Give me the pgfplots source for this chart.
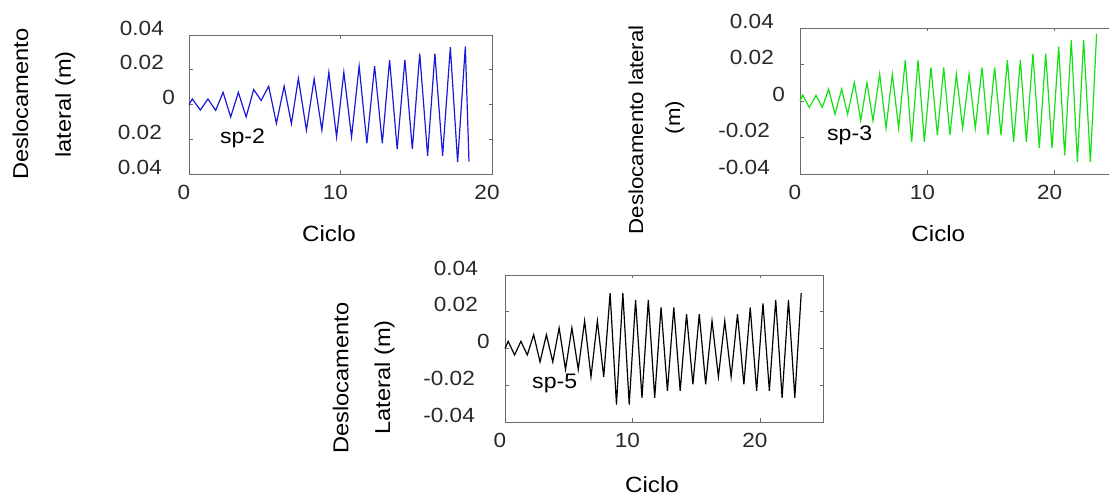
\documentclass[border=0pt]{standalone}
\usepackage{fontspec}
\setmainfont{Liberation Sans}[FakeStretch=1.1]
\usepackage{pgfplots}
\pgfplotsset{compat=1.18}
\definecolor{framec}{RGB}{105,105,105}
\definecolor{tlc}{RGB}{40,40,40}
\definecolor{sblue}{RGB}{25,25,215}
\definecolor{sgreen}{RGB}{20,225,20}
\tikzset{yl/.style={rotate=90, anchor=base, inner sep=0pt, font=\fontsize{21.5}{26}\selectfont}}
\pgfplotsset{
  base/.style={
    scale only axis,
    clip=false,
    anchor=south west,
    ymin=-0.04, ymax=0.04,
    scaled y ticks=false, scaled x ticks=false,
    ytick={-0.04,-0.02,0,0.02,0.04},
    xtick={0,10,20}, xticklabels={0,10,20},
    axis line style={framec, line width=0.9pt},
    tick style={framec, line width=0.6pt},
    major tick length=3.5pt,
    tick align=inside,
    /pgf/number format/assume math mode=true,
    ticklabel style={font=\fontsize{20.5}{24}\selectfont, text=tlc, inner sep=0pt},
    xticklabel style={anchor=north, yshift=-11pt, xshift=-5pt},
    label style={font=\fontsize{22}{26}\selectfont, text=black},
    xlabel={Ciclo},
  },
}
\begin{document}
\begin{tikzpicture}
% sp-2
\begin{axis}[base,
  at={(189pt,321pt)}, width=303pt, height=139pt,
  xmin=0, xmax=20,
  yticklabels={0.04\hspace*{2pt},0.02\hspace*{2pt},0\hspace*{-11pt},0.02,0.04},
  yticklabel style={anchor=east, xshift=-25pt, yshift=7pt},
  xlabel style={at={(axis description cs:0.462,-0.432)}, anchor=center},
]
\addplot[sblue, line width=1.2pt, line join=miter] coordinates {
(0,0) (0.22,0.0032) (0.75,-0.0032) (1.25,0.0032) (1.76,-0.0034) (2.25,0.0070) (2.75,-0.0072) (3.26,0.0070) (3.77,-0.0072) (4.27,0.0086) (4.76,0.0023) (5.26,0.0105) (5.77,-0.0109) (6.28,0.0105) (6.76,-0.0110) (7.22,0.0150) (7.75,-0.0147) (8.26,0.0147) (8.77,-0.0147) (9.23,0.0185) (9.74,-0.0187) (10.22,0.0185) (10.73,-0.0187) (11.23,0.0221) (11.74,-0.0223) (12.25,0.0221) (12.76,-0.0223) (13.24,0.0257) (13.74,-0.0257) (14.25,0.0257) (14.74,-0.0257) (15.23,0.0293) (15.75,-0.0295) (16.23,0.0293) (16.74,-0.0295) (17.25,0.0330) (17.73,-0.0331) (18.24,0.0333) (18.48,-0.0328)
};
\node[anchor=base, font=\fontsize{21}{24}\selectfont] at (axis cs:3.53,-0.0224) {sp-2};
\end{axis}
% sp-3
\begin{axis}[base,
  at={(800pt,321pt)}, width=318.25pt, height=146pt,
  xmin=0, xmax=25,
  yticklabels={-0.04\hspace*{4pt},-0.02\hspace*{4pt},0\hspace*{-11pt},0.02,0.04},
  yticklabel style={anchor=east, xshift=-26pt, yshift=7pt},
  xlabel style={at={(axis description cs:0.4346,-0.411)}, anchor=center},
]
\addplot[sgreen, line width=1.2pt, line join=miter] coordinates {
(0,0) (0.21,0.0033) (0.73,-0.0035) (1.26,0.0031) (1.75,-0.0035) (2.25,0.0065) (2.75,-0.0073) (3.27,0.0065) (3.74,-0.0073) (4.27,0.0102) (4.77,-0.0107) (5.26,0.0100) (5.73,-0.0107) (6.26,0.0147) (6.76,-0.0149) (7.25,0.0147) (7.75,-0.0149) (8.27,0.0224) (8.77,-0.0224) (9.27,0.0224) (9.77,-0.0224) (10.29,0.0184) (10.79,-0.0187) (11.29,0.0184) (11.78,-0.0187) (12.28,0.0147) (12.78,-0.0149) (13.28,0.0147) (13.77,-0.0149) (14.30,0.0184) (14.77,-0.0187) (15.29,0.0184) (15.79,-0.0187) (16.29,0.0224) (16.78,-0.0224) (17.31,0.0224) (17.78,-0.0224) (18.30,0.0260) (18.80,-0.0258) (19.30,0.0260) (19.80,-0.0258) (20.32,0.0298) (20.79,-0.0298) (21.31,0.0335) (21.79,-0.0335) (22.28,0.0335) (22.81,-0.0335) (23.30,0.0369)
};
\node[anchor=base, font=\fontsize{21}{24}\selectfont] at (axis cs:3.9,-0.0216) {sp-3};
\end{axis}
% sp-5
\begin{axis}[base,
  at={(505pt,73pt)}, width=318.5pt, height=147pt,
  xmin=0, xmax=25,
  yticklabels={-0.04\hspace*{3pt},-0.02\hspace*{3pt},0\hspace*{-12pt},0.02,0.04},
  yticklabel style={anchor=east, xshift=-27pt, yshift=7pt},
  xlabel style={at={(axis description cs:0.4615,-0.425)}, anchor=center},
]
\addplot[black, line width=1.2pt, line join=miter] coordinates {
(0,0) (0.25,0.0039) (0.75,-0.0035) (1.25,0.0039) (1.75,-0.0035) (2.25,0.0075) (2.75,-0.0073) (3.25,0.0075) (3.75,-0.0073) (4.25,0.0112) (4.75,-0.0114) (5.25,0.0112) (5.75,-0.0114) (6.25,0.0150) (6.75,-0.0154) (7.25,0.0150) (7.75,-0.0154) (8.25,0.0301) (8.75,-0.0305) (9.25,0.0301) (9.75,-0.0305) (10.25,0.0264) (10.75,-0.0268) (11.25,0.0264) (11.75,-0.0268) (12.25,0.0224) (12.75,-0.0231) (13.25,0.0224) (13.75,-0.0231) (14.25,0.0187) (14.75,-0.0195) (15.25,0.0187) (15.75,-0.0195) (16.25,0.0150) (16.75,-0.0154) (17.25,0.0150) (17.75,-0.0154) (18.25,0.0187) (18.75,-0.0195) (19.25,0.0224) (19.75,-0.0231) (20.25,0.0246) (20.75,-0.0231) (21.25,0.0264) (21.75,-0.0268) (22.25,0.0264) (22.75,-0.0268) (23.25,0.0301)
};
\node[anchor=base, font=\fontsize{21}{24}\selectfont] at (axis cs:3.9,-0.022) {sp-5};
\end{axis}
% y-axis titles
\node[yl] at (28.1pt,391pt) {Deslocamento};
\node[yl] at (70.8pt,390.5pt) {lateral (m)};
\node[yl, font=\fontsize{20.2}{24}\selectfont] at (643pt,365.3pt) {Deslocamento lateral};
\node[yl, font=\fontsize{20.2}{24}\selectfont] at (680pt,377.5pt) {(m)};
\node[yl] at (348.3pt,117pt) {Deslocamento};
\node[yl] at (390pt,117.5pt) {Lateral (m)};
\pgfresetboundingbox
\useasboundingbox (0pt,0pt) rectangle (1109pt,495pt);
\end{tikzpicture}
\end{document}
